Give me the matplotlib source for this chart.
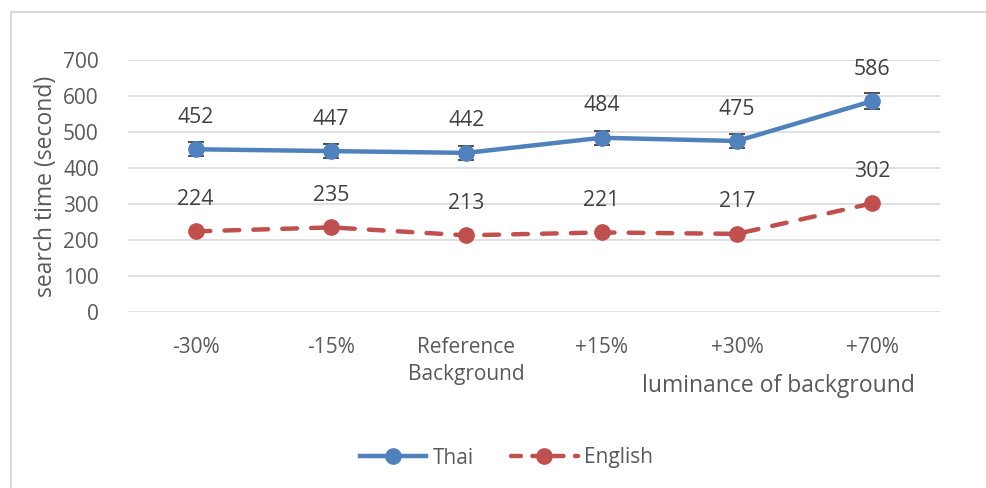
import matplotlib
matplotlib.use("Agg")
import matplotlib.pyplot as plt
from matplotlib.patches import Rectangle
from matplotlib.lines import Line2D

plt.rcParams['font.family'] = ['Open Sans', 'DejaVu Sans']

categories = ["-30%", "-15%", "Reference\nBackground", "+15%", "+30%", "+70%"]
thai = [452, 447, 442, 484, 475, 586]
thai_err = [20, 20, 20, 20, 20, 22]
english = [224, 235, 213, 221, 217, 302]
yticks = [0, 100, 200, 300, 400, 500, 600, 700]

blue = "#4F81BD"
red = "#C0504D"
grid_c = "#D9D9D9"
tick_c = "#595959"
lab_c = "#404040"

W, H = 987, 488
fig = plt.figure(figsize=(W / 100, H / 100), dpi=100)
fig.patches.append(Rectangle((11 / W, -0.1), 1.2, (H - 12) / H + 0.1, transform=fig.transFigure,
                             fill=False, edgecolor=grid_c, linewidth=1.5))
ax = fig.add_axes([128 / W, (H - 312) / H, (940 - 128) / W, (312 - 60) / H])

x = list(range(len(categories)))
dash = (0, (3.3, 3.2))
ax.errorbar(x, thai, yerr=thai_err, color=blue, lw=3.2, marker='o', ms=11,
            ecolor="#404040", elinewidth=1.3, capsize=6, capthick=1.3, zorder=3)
ax.plot(x, english, color=red, lw=3.2, ls=dash, dash_capstyle='round', marker='o', ms=11, zorder=3)

for xi, v in zip(x, thai):
    ax.annotate(str(v), (xi, v), xytext=(0, 23), textcoords='offset points',
                ha='center', va='center', fontsize=15.3, color=lab_c)
for xi, v in zip(x, english):
    ax.annotate(str(v), (xi, v), xytext=(0, 23), textcoords='offset points',
                ha='center', va='center', fontsize=15.3, color=lab_c)

ax.set_xlim(-0.5, len(categories) - 0.5)
ax.set_ylim(0, 700)
ax.set_yticks(yticks)
ax.set_xticks(x)
ax.set_xticklabels(categories, linespacing=1.35)
ax.tick_params(axis='both', length=0, labelsize=15, labelcolor=tick_c)
ax.tick_params(axis='x', pad=18)
ax.tick_params(axis='y', pad=21)
ax.grid(axis='y', color=grid_c, lw=1.2)
ax.set_axisbelow(True)
for s in ax.spines.values():
    s.set_visible(False)

ax.set_ylabel("search time (second)", fontsize=16.5, color=tick_c, labelpad=4)
fig.text(915 / W, 1 - 386 / H, "luminance of background", ha='right', va='center',
         fontsize=16.5, color=tick_c)

handles = [Line2D([], [], color=blue, lw=3.2, marker='o', ms=11),
           Line2D([], [], color=red, lw=3.2, ls=(0, (2.2, 2.6)), dash_capstyle='round',
                  marker='o', ms=11)]
fig.legend(handles, ["Thai", "English"], loc='center', bbox_to_anchor=(0.513, 1 - 458 / H),
           ncol=2, frameon=False, fontsize=15, handlelength=3.2, columnspacing=1.8,
           handletextpad=0.3, labelcolor=tick_c)

fig.savefig("out.png", dpi=100)
